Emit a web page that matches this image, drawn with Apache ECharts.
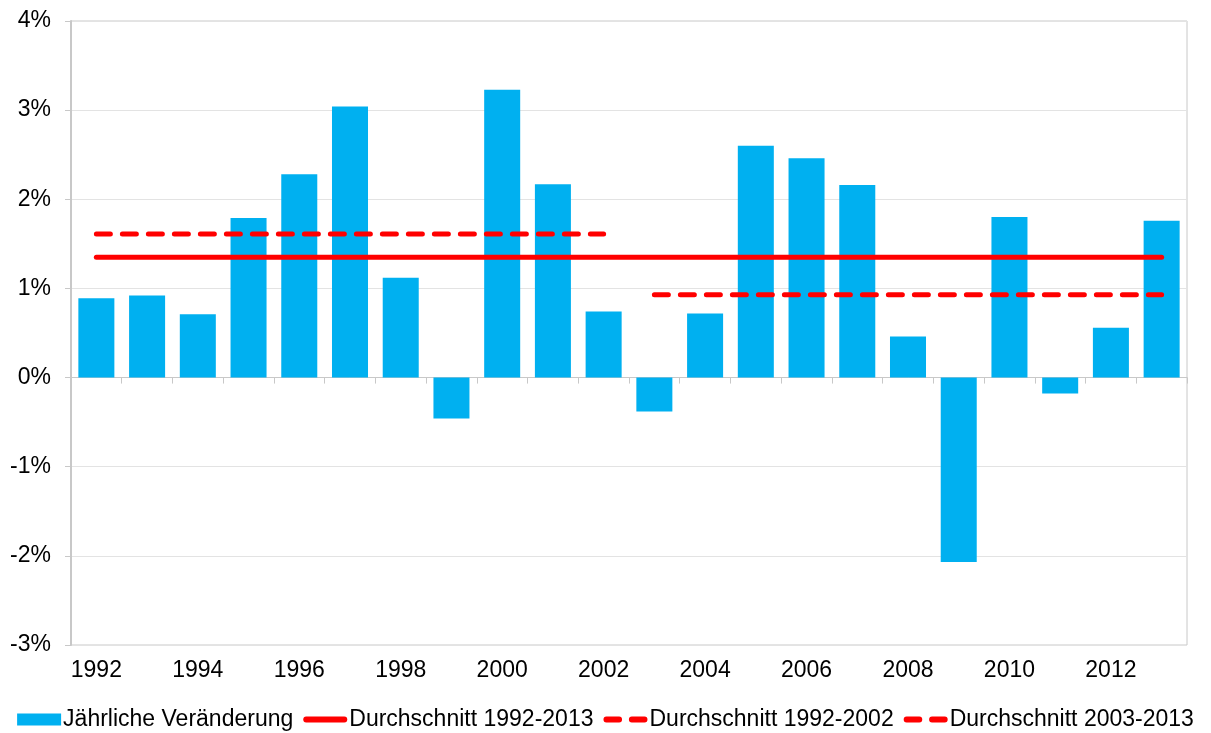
<!DOCTYPE html>
<html>
<head>
<meta charset="utf-8">
<script src="https://cdn.jsdelivr.net/npm/echarts@6/dist/echarts.min.js"></script>
<style>
html,body{margin:0;padding:0;background:#fff;}
#chart{width:1211px;height:733px;}
</style>
</head>
<body>
<div id="chart"></div>
<script>
// Jahre und jährliche Veränderung in %
var years = ['1992','1993','1994','1995','1996','1997','1998','1999','2000','2001','2002',
             '2003','2004','2005','2006','2007','2008','2009','2010','2011','2012','2013'];
var change = [0.89, 0.92, 0.71, 1.79, 2.28, 3.04, 1.12, -0.46, 3.23, 2.17, 0.74,
              -0.38, 0.72, 2.60, 2.46, 2.16, 0.46, -2.07, 1.80, -0.18, 0.56, 1.76];
// Durchschnittswerte (Anfang, Ende)
var avgAll = [['1992', 1.35], ['2013', 1.35]];
var avgFirst = [['1992', 1.61], ['2002', 1.61]];
var avgSecond = [['2003', 0.93], ['2013', 0.93]];
var yTicks = [-3, 4, 1]; // min, max, interval

var font = 'Liberation Sans, Arial, sans-serif';
var dashStyle = {color: '#ff0000', width: 5, type: [14, 12], cap: 'round'};
// Legenden-Symbole: durchgezogen / gestrichelt
var iconSolid = 'path://M3,0L42,0A3,3 0 0 1 42,6L3,6A3,3 0 0 1 3,0Z';
var iconDash = 'path://M3,0L16,0A3,3 0 0 1 16,6L3,6A3,3 0 0 1 3,0Z M29,0L42,0A3,3 0 0 1 42,6L29,6A3,3 0 0 1 29,0Z';

var myChart = echarts.init(document.getElementById('chart'));
var option = {
    animation: false,
    textStyle: {fontFamily: font},
    grid: {left: 71, right: 24, top: 21, bottom: 88, show: true, borderColor: '#c8c8c8', borderWidth: 1},
    legend: {
        bottom: -3,
        left: 'center',
        itemWidth: 44,
        itemHeight: 12,
        itemGap: 10,
        symbolKeepAspect: true,
        textStyle: {fontSize: 23, color: '#000', fontFamily: font, padding: [0, 0, 0, -3]},
        data: [
            {name: 'Jährliche Veränderung', icon: 'rect'},
            {name: 'Durchschnitt 1992-2013', icon: iconSolid},
            {name: 'Durchschnitt 1992-2002', icon: iconDash},
            {name: 'Durchschnitt 2003-2013', icon: iconDash}
        ]
    },
    xAxis: [{
        type: 'category',
        data: years,
        axisLine: {onZero: true, lineStyle: {color: '#c8c8c8', width: 1}},
        axisTick: {show: true, interval: 0, length: 6, lineStyle: {color: '#c8c8c8'}},
        axisLabel: {show: false}
    }, {
        type: 'category',
        data: years,
        position: 'bottom',
        axisLine: {show: false, onZero: false},
        axisTick: {show: false},
        axisLabel: {interval: 1, fontSize: 23, color: '#000', margin: 14, fontFamily: font}
    }],
    yAxis: {
        type: 'value',
        min: yTicks[0],
        max: yTicks[1],
        interval: yTicks[2],
        axisLine: {show: true, lineStyle: {color: '#c8c8c8', width: 2}},
        axisTick: {show: true, length: 6, lineStyle: {color: '#c8c8c8'}},
        splitLine: {lineStyle: {color: '#e3e3e3', width: 1}},
        axisLabel: {fontSize: 23, color: '#000', margin: 20, fontFamily: font,
            formatter: function (v) { return v + '%'; }}
    },
    series: [{
        name: 'Jährliche Veränderung',
        type: 'bar',
        data: change,
        barWidth: '71%',
        itemStyle: {color: '#00b0f0'}
    }, {
        name: 'Durchschnitt 1992-2013',
        type: 'line',
        data: avgAll,
        symbol: 'none',
        lineStyle: {color: '#ff0000', width: 5, cap: 'round'},
        itemStyle: {color: '#ff0000'}
    }, {
        name: 'Durchschnitt 1992-2002',
        type: 'line',
        data: avgFirst,
        symbol: 'none',
        lineStyle: dashStyle,
        itemStyle: {color: '#ff0000'}
    }, {
        name: 'Durchschnitt 2003-2013',
        type: 'line',
        data: avgSecond,
        symbol: 'none',
        lineStyle: dashStyle,
        itemStyle: {color: '#ff0000'}
    }]
};
myChart.setOption(option);
</script>
</body>
</html>
